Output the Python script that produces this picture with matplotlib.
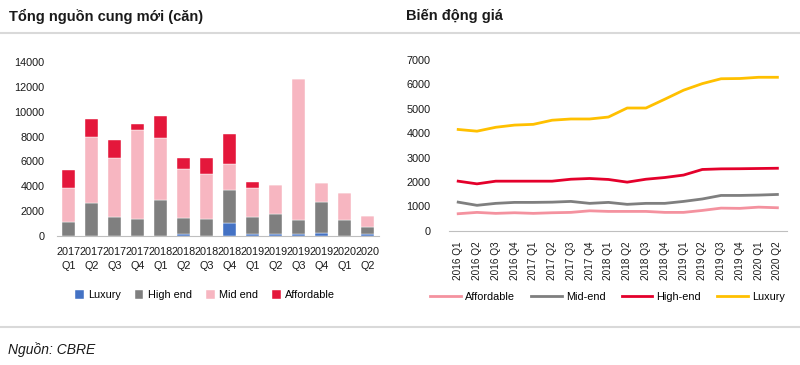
import numpy as np
import matplotlib.pyplot as plt
from matplotlib.lines import Line2D

plt.rcParams['font.family'] = ['Liberation Sans', 'DejaVu Sans']

# supply data (units)
quarters = ["2017\nQ1", "2017\nQ2", "2017\nQ3", "2017\nQ4", "2018\nQ1", "2018\nQ2", "2018\nQ3",
            "2018\nQ4", "2019\nQ1", "2019\nQ2", "2019\nQ3", "2019\nQ4", "2020\nQ1", "2020\nQ2"]
luxury = [0, 0, 0, 0, 0, 190, 0, 1050, 190, 190, 190, 240, 0, 190]
high_end = [1150, 2650, 1500, 1370, 2870, 1280, 1390, 2620, 1340, 1610, 1120, 2490, 1290, 510]
mid_end = [2740, 5310, 4800, 7150, 5030, 3920, 3570, 2120, 2360, 2300, 11360, 1500, 2190, 910]
affordable = [1390, 1490, 1420, 460, 1750, 850, 1340, 2410, 480, 0, 0, 0, 0, 0]

# price data
periods = ["2016 Q1", "2016 Q2", "2016 Q3", "2016 Q4", "2017 Q1", "2017 Q2", "2017 Q3", "2017 Q4",
           "2018 Q1", "2018 Q2", "2018 Q3", "2018 Q4", "2019 Q1", "2019 Q2", "2019 Q3", "2019 Q4",
           "2020 Q1", "2020 Q2"]
p_affordable = [695, 750, 710, 735, 710, 735, 750, 815, 790, 790, 790, 750, 750, 830, 925, 915, 965, 940]
p_mid = [1170, 1040, 1120, 1160, 1160, 1170, 1200, 1120, 1160, 1080, 1120, 1120, 1200, 1300, 1445, 1445, 1460, 1485]
p_high = [2030, 1920, 2030, 2030, 2030, 2030, 2110, 2140, 2100, 1990, 2110, 2180, 2280, 2510, 2535, 2540, 2550, 2560]
p_luxury = [4150, 4080, 4240, 4330, 4360, 4530, 4580, 4580, 4660, 5030, 5030, 5390, 5760, 6030, 6230, 6240, 6290, 6290]

C_LUX = "#4472C4"
C_HIGH = "#7F7F7F"
C_MID = "#F7B6C1"
C_AFF = "#E4173B"
TXT = "#1A1A1A"

fig = plt.figure(figsize=(8, 3.65), dpi=100)

# ---- left: stacked bars
ax1 = fig.add_axes([0.071, 0.3534, 0.4025, 0.4767])
x = np.arange(len(quarters))
w = 0.56
b = np.zeros(len(quarters))
for vals, col, lab in [(luxury, C_LUX, "Luxury"), (high_end, C_HIGH, "High end"),
                       (mid_end, C_MID, "Mid end"), (affordable, C_AFF, "Affordable")]:
    ax1.bar(x, vals, w, bottom=b, color=col, label=lab, edgecolor="white", linewidth=0.3)
    b = b + np.array(vals)
ax1.set_xlim(-0.5, 13.5)
ax1.set_ylim(0, 14000)
ax1.set_yticks(range(0, 14001, 2000))
ax1.set_xticks(x)
ax1.set_xticklabels(quarters, fontsize=7.8, linespacing=1.5, color=TXT)
ax1.tick_params(axis="y", labelsize=7.8, length=0, pad=9, labelcolor=TXT)
ax1.tick_params(axis="x", length=0, pad=8)
for s in ["top", "right", "left"]:
    ax1.spines[s].set_visible(False)
ax1.spines["bottom"].set_color("#BFBFBF")
ax1.legend(loc="center", bbox_to_anchor=(0.46, -0.34), ncol=4, frameon=False,
           fontsize=7.8, handlelength=0.8, handleheight=0.8, handletextpad=0.4, columnspacing=1.3)

# ---- right: price lines
ax2 = fig.add_axes([0.561, 0.368, 0.4225, 0.4677])
xp = np.arange(len(periods))
ax2.plot(xp, p_affordable, color="#F4929F", lw=2, label="Affordable")
ax2.plot(xp, p_mid, color="#7F7F7F", lw=2, label="Mid-end")
ax2.plot(xp, p_high, color="#E4002B", lw=2, label="High-end")
ax2.plot(xp, p_luxury, color="#FFC000", lw=2, label="Luxury")
ax2.set_xlim(-0.5, 17.5)
ax2.set_ylim(0, 7000)
ax2.set_yticks(range(0, 7001, 1000))
ax2.set_xticks(xp)
ax2.set_xticklabels(periods, rotation=90, fontsize=7.2, color=TXT)
ax2.tick_params(axis="y", labelsize=7.8, length=0, pad=13, labelcolor=TXT)
ax2.tick_params(axis="x", length=0, pad=8)
for s in ["top", "right", "left"]:
    ax2.spines[s].set_visible(False)
ax2.spines["bottom"].set_color("#BFBFBF")
ax2.legend(loc="center", bbox_to_anchor=(0.47, -0.387), ncol=4, frameon=False,
           fontsize=7.8, handlelength=2.8, handletextpad=0.4, columnspacing=1.5)

# ---- titles, rules and source
fig.text(0.011, 0.955, "Tổng nguồn cung mới (căn)", fontsize=10.5, fontweight="bold",
         va="center", ha="left", color=TXT)
fig.text(0.508, 0.955, "Biến động giá", fontsize=10.5, fontweight="bold",
         va="center", ha="left", color=TXT)
fig.add_artist(Line2D([0, 1], [1 - 33 / 365, 1 - 33 / 365], color="#D9D9D9", lw=1.5,
                      transform=fig.transFigure))
fig.add_artist(Line2D([0, 1], [1 - 327 / 365, 1 - 327 / 365], color="#D9D9D9", lw=1.5,
                      transform=fig.transFigure))
fig.text(0.01, 1 - 350 / 365, "Nguồn: CBRE", fontsize=10, fontstyle="italic",
         va="center", ha="left", color=TXT)

fig.savefig("out.png", dpi=100)
